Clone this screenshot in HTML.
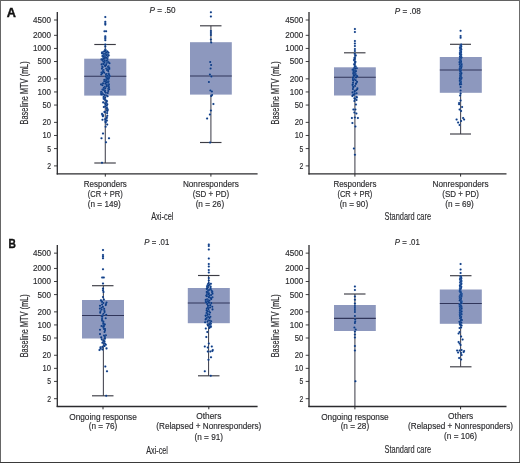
<!DOCTYPE html>
<html lang="en">
<head>
<meta charset="utf-8">
<title>Baseline MTV by response</title>
<style>
html,body{margin:0;padding:0;background:#fff;}
body{width:520px;height:463px;overflow:hidden;}
svg{display:block;font-family:"Liberation Sans",sans-serif;}
text{stroke:#2d2d30;stroke-width:0.16px;}
</style>
</head>
<body>
<svg width="520" height="463" viewBox="0 0 520 463">
<rect x="0" y="0" width="520" height="463" fill="#fff"/>
<g>
<line x1="105.3" y1="44.5" x2="105.3" y2="163.0" stroke="#4a4a55" stroke-width="1.1"/>
<rect x="84.2" y="58.7" width="42.10" height="36.90" fill="#8d98be"/>
<line x1="84.2" y1="76.2" x2="126.3" y2="76.2" stroke="#30355a" stroke-width="1.15"/>
<line x1="94.3" y1="44.5" x2="115.8" y2="44.5" stroke="#3c3c44" stroke-width="1.15"/>
<line x1="94.3" y1="163.0" x2="115.8" y2="163.0" stroke="#3c3c44" stroke-width="1.15"/>
<g fill="#0e3a82" stroke="#7fb0ec" stroke-opacity="0.4" stroke-width="0.5" paint-order="stroke">
<circle cx="105.4" cy="49.5" r="1.05"/>
<circle cx="105.2" cy="50.3" r="1.05"/>
<circle cx="105.5" cy="50.6" r="1.05"/>
<circle cx="105.3" cy="50.9" r="1.05"/>
<circle cx="107.3" cy="51.5" r="1.05"/>
<circle cx="104.0" cy="51.6" r="1.05"/>
<circle cx="107.4" cy="51.9" r="1.05"/>
<circle cx="102.2" cy="52.3" r="1.05"/>
<circle cx="108.5" cy="52.7" r="1.05"/>
<circle cx="106.1" cy="52.8" r="1.05"/>
<circle cx="102.0" cy="53.0" r="1.05"/>
<circle cx="102.3" cy="53.4" r="1.05"/>
<circle cx="103.5" cy="53.5" r="1.05"/>
<circle cx="105.1" cy="53.8" r="1.05"/>
<circle cx="107.6" cy="54.2" r="1.05"/>
<circle cx="106.3" cy="54.5" r="1.05"/>
<circle cx="106.4" cy="54.7" r="1.05"/>
<circle cx="103.8" cy="55.0" r="1.05"/>
<circle cx="108.7" cy="55.4" r="1.05"/>
<circle cx="106.7" cy="55.6" r="1.05"/>
<circle cx="103.5" cy="55.8" r="1.05"/>
<circle cx="102.4" cy="56.0" r="1.05"/>
<circle cx="104.6" cy="56.4" r="1.05"/>
<circle cx="104.5" cy="56.7" r="1.05"/>
<circle cx="107.7" cy="57.0" r="1.05"/>
<circle cx="103.3" cy="57.1" r="1.05"/>
<circle cx="105.1" cy="57.6" r="1.05"/>
<circle cx="104.6" cy="57.9" r="1.05"/>
<circle cx="106.2" cy="57.9" r="1.05"/>
<circle cx="103.7" cy="58.4" r="1.05"/>
<circle cx="104.2" cy="58.4" r="1.05"/>
<circle cx="107.5" cy="59.0" r="1.05"/>
<circle cx="103.1" cy="59.1" r="1.05"/>
<circle cx="101.5" cy="59.4" r="1.05"/>
<circle cx="102.5" cy="60.0" r="1.05"/>
<circle cx="104.8" cy="60.3" r="1.05"/>
<circle cx="107.3" cy="60.5" r="1.05"/>
<circle cx="106.5" cy="60.8" r="1.05"/>
<circle cx="104.6" cy="61.2" r="1.05"/>
<circle cx="103.3" cy="61.6" r="1.05"/>
<circle cx="107.9" cy="62.2" r="1.05"/>
<circle cx="108.6" cy="62.3" r="1.05"/>
<circle cx="104.4" cy="62.6" r="1.05"/>
<circle cx="106.5" cy="63.2" r="1.05"/>
<circle cx="109.5" cy="63.3" r="1.05"/>
<circle cx="103.2" cy="63.7" r="1.05"/>
<circle cx="103.8" cy="64.2" r="1.05"/>
<circle cx="101.6" cy="64.4" r="1.05"/>
<circle cx="106.0" cy="64.7" r="1.05"/>
<circle cx="106.2" cy="65.1" r="1.05"/>
<circle cx="104.9" cy="65.5" r="1.05"/>
<circle cx="105.2" cy="66.0" r="1.05"/>
<circle cx="108.5" cy="66.3" r="1.05"/>
<circle cx="102.3" cy="66.5" r="1.05"/>
<circle cx="108.0" cy="67.1" r="1.05"/>
<circle cx="102.6" cy="67.2" r="1.05"/>
<circle cx="109.1" cy="67.7" r="1.05"/>
<circle cx="109.2" cy="67.9" r="1.05"/>
<circle cx="106.2" cy="68.5" r="1.05"/>
<circle cx="101.9" cy="68.6" r="1.05"/>
<circle cx="109.3" cy="68.9" r="1.05"/>
<circle cx="107.1" cy="69.3" r="1.05"/>
<circle cx="108.1" cy="69.6" r="1.05"/>
<circle cx="103.5" cy="70.1" r="1.05"/>
<circle cx="107.2" cy="70.3" r="1.05"/>
<circle cx="103.0" cy="70.6" r="1.05"/>
<circle cx="108.3" cy="71.1" r="1.05"/>
<circle cx="103.4" cy="71.5" r="1.05"/>
<circle cx="102.8" cy="72.0" r="1.05"/>
<circle cx="103.3" cy="72.0" r="1.05"/>
<circle cx="101.5" cy="72.5" r="1.05"/>
<circle cx="104.2" cy="72.8" r="1.05"/>
<circle cx="102.1" cy="73.3" r="1.05"/>
<circle cx="108.7" cy="73.5" r="1.05"/>
<circle cx="106.6" cy="74.1" r="1.05"/>
<circle cx="106.0" cy="74.3" r="1.05"/>
<circle cx="101.3" cy="74.5" r="1.05"/>
<circle cx="108.8" cy="74.8" r="1.05"/>
<circle cx="109.3" cy="75.4" r="1.05"/>
<circle cx="106.5" cy="75.5" r="1.05"/>
<circle cx="107.3" cy="76.0" r="1.05"/>
<circle cx="109.6" cy="76.3" r="1.05"/>
<circle cx="105.7" cy="76.6" r="1.05"/>
<circle cx="108.7" cy="77.3" r="1.05"/>
<circle cx="107.1" cy="77.6" r="1.05"/>
<circle cx="108.9" cy="78.1" r="1.05"/>
<circle cx="106.9" cy="78.3" r="1.05"/>
<circle cx="108.5" cy="78.9" r="1.05"/>
<circle cx="107.8" cy="79.1" r="1.05"/>
<circle cx="105.9" cy="79.6" r="1.05"/>
<circle cx="104.3" cy="79.9" r="1.05"/>
<circle cx="106.2" cy="80.3" r="1.05"/>
<circle cx="106.5" cy="80.5" r="1.05"/>
<circle cx="108.6" cy="81.2" r="1.05"/>
<circle cx="104.3" cy="81.5" r="1.05"/>
<circle cx="106.0" cy="81.9" r="1.05"/>
<circle cx="108.2" cy="82.2" r="1.05"/>
<circle cx="107.5" cy="82.4" r="1.05"/>
<circle cx="106.2" cy="82.8" r="1.05"/>
<circle cx="103.0" cy="83.4" r="1.05"/>
<circle cx="105.3" cy="83.8" r="1.05"/>
<circle cx="108.9" cy="84.2" r="1.05"/>
<circle cx="101.1" cy="84.4" r="1.05"/>
<circle cx="106.8" cy="84.9" r="1.05"/>
<circle cx="102.5" cy="85.2" r="1.05"/>
<circle cx="106.7" cy="85.9" r="1.05"/>
<circle cx="108.7" cy="86.1" r="1.05"/>
<circle cx="106.7" cy="86.4" r="1.05"/>
<circle cx="104.7" cy="86.8" r="1.05"/>
<circle cx="108.9" cy="87.4" r="1.05"/>
<circle cx="104.3" cy="87.8" r="1.05"/>
<circle cx="103.7" cy="88.1" r="1.05"/>
<circle cx="105.3" cy="88.3" r="1.05"/>
<circle cx="108.3" cy="88.9" r="1.05"/>
<circle cx="109.2" cy="89.3" r="1.05"/>
<circle cx="102.5" cy="89.5" r="1.05"/>
<circle cx="103.4" cy="90.0" r="1.05"/>
<circle cx="104.6" cy="90.3" r="1.05"/>
<circle cx="105.2" cy="90.8" r="1.05"/>
<circle cx="108.2" cy="91.1" r="1.05"/>
<circle cx="104.9" cy="91.7" r="1.05"/>
<circle cx="101.3" cy="91.7" r="1.05"/>
<circle cx="101.4" cy="92.4" r="1.05"/>
<circle cx="105.9" cy="92.8" r="1.05"/>
<circle cx="107.8" cy="93.0" r="1.05"/>
<circle cx="102.2" cy="93.3" r="1.05"/>
<circle cx="101.2" cy="93.8" r="1.05"/>
<circle cx="103.0" cy="94.4" r="1.05"/>
<circle cx="101.4" cy="94.5" r="1.05"/>
<circle cx="104.8" cy="95.1" r="1.05"/>
<circle cx="106.6" cy="95.5" r="1.05"/>
<circle cx="107.6" cy="96.2" r="1.05"/>
<circle cx="103.8" cy="96.8" r="1.05"/>
<circle cx="103.7" cy="97.3" r="1.05"/>
<circle cx="105.2" cy="97.7" r="1.05"/>
<circle cx="103.7" cy="98.8" r="1.05"/>
<circle cx="104.5" cy="99.2" r="1.05"/>
<circle cx="105.4" cy="100.2" r="1.05"/>
<circle cx="106.6" cy="100.8" r="1.05"/>
<circle cx="106.8" cy="101.3" r="1.05"/>
<circle cx="103.2" cy="102.4" r="1.05"/>
<circle cx="106.4" cy="103.1" r="1.05"/>
<circle cx="105.1" cy="103.2" r="1.05"/>
<circle cx="107.3" cy="104.2" r="1.05"/>
<circle cx="105.6" cy="104.7" r="1.05"/>
<circle cx="106.8" cy="105.8" r="1.05"/>
<circle cx="105.1" cy="106.5" r="1.05"/>
<circle cx="103.8" cy="107.0" r="1.05"/>
<circle cx="106.9" cy="107.7" r="1.05"/>
<circle cx="106.4" cy="108.3" r="1.05"/>
<circle cx="107.3" cy="108.7" r="1.05"/>
<circle cx="107.7" cy="109.9" r="1.05"/>
<circle cx="106.8" cy="110.3" r="1.05"/>
<circle cx="107.3" cy="110.9" r="1.05"/>
<circle cx="104.5" cy="111.9" r="1.05"/>
<circle cx="104.9" cy="112.1" r="1.05"/>
<circle cx="107.1" cy="113.1" r="1.05"/>
<circle cx="102.1" cy="113.7" r="1.05"/>
<circle cx="102.3" cy="114.7" r="1.05"/>
<circle cx="103.1" cy="115.4" r="1.05"/>
<circle cx="107.3" cy="115.7" r="1.05"/>
<circle cx="102.9" cy="116.3" r="1.05"/>
<circle cx="106.8" cy="117.3" r="1.05"/>
<circle cx="106.6" cy="118.2" r="1.05"/>
<circle cx="105.2" cy="119.0" r="1.05"/>
<circle cx="102.5" cy="119.7" r="1.05"/>
<circle cx="105.5" cy="119.9" r="1.05"/>
<circle cx="106.9" cy="120.6" r="1.05"/>
<circle cx="105.5" cy="121.5" r="1.05"/>
<circle cx="105.7" cy="122.4" r="1.05"/>
<circle cx="105.3" cy="17.0" r="1.05"/>
<circle cx="105.3" cy="21.8" r="1.05"/>
<circle cx="105.3" cy="23.2" r="1.05"/>
<circle cx="105.3" cy="24.6" r="1.05"/>
<circle cx="104.5" cy="31.2" r="1.05"/>
<circle cx="106.1" cy="31.2" r="1.05"/>
<circle cx="105.3" cy="36.2" r="1.05"/>
<circle cx="105.3" cy="37.5" r="1.05"/>
<circle cx="105.3" cy="38.8" r="1.05"/>
<circle cx="105.3" cy="40.2" r="1.05"/>
<circle cx="105.3" cy="44.5" r="1.05"/>
<circle cx="105.3" cy="46.5" r="1.05"/>
<circle cx="107.2" cy="124.5" r="1.05"/>
<circle cx="105.6" cy="126.8" r="1.05"/>
<circle cx="103.0" cy="133.5" r="1.05"/>
<circle cx="101.5" cy="138.3" r="1.05"/>
<circle cx="109.0" cy="138.3" r="1.05"/>
<circle cx="106.0" cy="142.3" r="1.05"/>
<circle cx="102.0" cy="162.8" r="1.05"/>
</g>
<line x1="105.3" y1="173.8" x2="105.3" y2="176.60000000000002" stroke="#2b2b2e" stroke-width="1"/>
<line x1="210.9" y1="25.8" x2="210.9" y2="142.5" stroke="#4a4a55" stroke-width="1.1"/>
<rect x="190" y="42.2" width="41.80" height="52.40" fill="#8d98be"/>
<line x1="190" y1="76" x2="231.8" y2="76" stroke="#30355a" stroke-width="1.15"/>
<line x1="200" y1="25.8" x2="221.5" y2="25.8" stroke="#3c3c44" stroke-width="1.15"/>
<line x1="200" y1="142.5" x2="221.5" y2="142.5" stroke="#3c3c44" stroke-width="1.15"/>
<g fill="#0e3a82" stroke="#7fb0ec" stroke-opacity="0.4" stroke-width="0.5" paint-order="stroke">
<circle cx="210.9" cy="12.3" r="1.05"/>
<circle cx="210.9" cy="16.5" r="1.05"/>
<circle cx="210.9" cy="31.0" r="1.05"/>
<circle cx="210.9" cy="33.0" r="1.05"/>
<circle cx="210.9" cy="35.0" r="1.05"/>
<circle cx="210.9" cy="39.5" r="1.05"/>
<circle cx="211.2" cy="42.5" r="1.05"/>
<circle cx="210.2" cy="62.0" r="1.05"/>
<circle cx="211.1" cy="65.0" r="1.05"/>
<circle cx="210.6" cy="68.5" r="1.05"/>
<circle cx="209.9" cy="74.5" r="1.05"/>
<circle cx="211.4" cy="76.5" r="1.05"/>
<circle cx="208.9" cy="82.0" r="1.05"/>
<circle cx="210.4" cy="90.5" r="1.05"/>
<circle cx="211.9" cy="91.5" r="1.05"/>
<circle cx="212.1" cy="95.0" r="1.05"/>
<circle cx="211.2" cy="96.0" r="1.05"/>
<circle cx="213.4" cy="104.0" r="1.05"/>
<circle cx="210.9" cy="110.5" r="1.05"/>
<circle cx="209.9" cy="114.5" r="1.05"/>
<circle cx="207.1" cy="118.5" r="1.05"/>
<circle cx="210.1" cy="142.5" r="1.05"/>
</g>
<line x1="210.9" y1="173.8" x2="210.9" y2="176.60000000000002" stroke="#2b2b2e" stroke-width="1"/>
<line x1="57.3" y1="12.1" x2="57.3" y2="174.4" stroke="#2b2b2e" stroke-width="1.3"/>
<line x1="56.699999999999996" y1="173.8" x2="257.6" y2="173.8" stroke="#2b2b2e" stroke-width="1.3"/>
<line x1="54.0" y1="20.00" x2="57.3" y2="20.00" stroke="#2b2b2e" stroke-width="0.9"/>
<text x="51.00" y="22.95" text-anchor="end" font-size="8.3" textLength="18.0" lengthAdjust="spacingAndGlyphs" fill="#2d2d30">4500</text>
<line x1="54.0" y1="35.33" x2="57.3" y2="35.33" stroke="#2b2b2e" stroke-width="0.9"/>
<text x="51.00" y="38.28" text-anchor="end" font-size="8.3" textLength="18.0" lengthAdjust="spacingAndGlyphs" fill="#2d2d30">2000</text>
<line x1="54.0" y1="48.43" x2="57.3" y2="48.43" stroke="#2b2b2e" stroke-width="0.9"/>
<text x="51.00" y="51.38" text-anchor="end" font-size="8.3" textLength="18.0" lengthAdjust="spacingAndGlyphs" fill="#2d2d30">1000</text>
<line x1="54.0" y1="61.53" x2="57.3" y2="61.53" stroke="#2b2b2e" stroke-width="0.9"/>
<text x="51.00" y="64.48" text-anchor="end" font-size="8.3" textLength="13.5" lengthAdjust="spacingAndGlyphs" fill="#2d2d30">500</text>
<line x1="54.0" y1="78.85" x2="57.3" y2="78.85" stroke="#2b2b2e" stroke-width="0.9"/>
<text x="51.00" y="81.80" text-anchor="end" font-size="8.3" textLength="13.5" lengthAdjust="spacingAndGlyphs" fill="#2d2d30">200</text>
<line x1="54.0" y1="91.95" x2="57.3" y2="91.95" stroke="#2b2b2e" stroke-width="0.9"/>
<text x="51.00" y="94.90" text-anchor="end" font-size="8.3" textLength="13.5" lengthAdjust="spacingAndGlyphs" fill="#2d2d30">100</text>
<line x1="54.0" y1="105.06" x2="57.3" y2="105.06" stroke="#2b2b2e" stroke-width="0.9"/>
<text x="51.00" y="108.01" text-anchor="end" font-size="8.3" textLength="8.5" lengthAdjust="spacingAndGlyphs" fill="#2d2d30">50</text>
<line x1="54.0" y1="122.38" x2="57.3" y2="122.38" stroke="#2b2b2e" stroke-width="0.9"/>
<text x="51.00" y="125.33" text-anchor="end" font-size="8.3" textLength="8.5" lengthAdjust="spacingAndGlyphs" fill="#2d2d30">20</text>
<line x1="54.0" y1="135.48" x2="57.3" y2="135.48" stroke="#2b2b2e" stroke-width="0.9"/>
<text x="51.00" y="138.43" text-anchor="end" font-size="8.3" textLength="8.5" lengthAdjust="spacingAndGlyphs" fill="#2d2d30">10</text>
<line x1="54.0" y1="148.58" x2="57.3" y2="148.58" stroke="#2b2b2e" stroke-width="0.9"/>
<text x="51.00" y="151.53" text-anchor="end" font-size="8.3" textLength="3.8" lengthAdjust="spacingAndGlyphs" fill="#2d2d30">5</text>
<line x1="54.0" y1="165.90" x2="57.3" y2="165.90" stroke="#2b2b2e" stroke-width="0.9"/>
<text x="51.00" y="168.85" text-anchor="end" font-size="8.3" textLength="3.8" lengthAdjust="spacingAndGlyphs" fill="#2d2d30">2</text>
<text transform="translate(27.8,92.9) rotate(-90)" text-anchor="middle" font-size="10" textLength="63" lengthAdjust="spacingAndGlyphs" fill="#2d2d30">Baseline MTV (mL)</text>
<text x="149.5" y="13.4" font-size="8.4" textLength="26" lengthAdjust="spacingAndGlyphs" fill="#2d2d30"><tspan font-style="italic">P</tspan> = .50</text>
<text x="162.3" y="220.0" text-anchor="middle" font-size="10.8" textLength="22.2" lengthAdjust="spacingAndGlyphs" fill="#2d2d30">Axi-cel</text>
<text x="105.3" y="186.9" text-anchor="middle" font-size="8.7" textLength="43" lengthAdjust="spacingAndGlyphs" fill="#2d2d30">Responders</text>
<text x="105.3" y="196.6" text-anchor="middle" font-size="8.7" textLength="35" lengthAdjust="spacingAndGlyphs" fill="#2d2d30">(CR + PR)</text>
<text x="104.3" y="206.7" text-anchor="middle" font-size="8.7" textLength="33" lengthAdjust="spacingAndGlyphs" fill="#2d2d30">(n = 149)</text>
<text x="210.9" y="186.9" text-anchor="middle" font-size="8.7" textLength="56" lengthAdjust="spacingAndGlyphs" fill="#2d2d30">Nonresponders</text>
<text x="210.9" y="196.6" text-anchor="middle" font-size="8.7" textLength="36.5" lengthAdjust="spacingAndGlyphs" fill="#2d2d30">(SD + PD)</text>
<text x="209.9" y="206.7" text-anchor="middle" font-size="8.7" textLength="28.5" lengthAdjust="spacingAndGlyphs" fill="#2d2d30">(n = 26)</text>
</g>
<g>
<line x1="354.9" y1="52.8" x2="354.9" y2="173.8" stroke="#4a4a55" stroke-width="1.1"/>
<rect x="334" y="67.3" width="41.80" height="28.20" fill="#8d98be"/>
<line x1="334" y1="77.2" x2="375.8" y2="77.2" stroke="#30355a" stroke-width="1.15"/>
<line x1="344" y1="52.8" x2="365.5" y2="52.8" stroke="#3c3c44" stroke-width="1.15"/>
<g fill="#0e3a82" stroke="#7fb0ec" stroke-opacity="0.4" stroke-width="0.5" paint-order="stroke">
<circle cx="354.7" cy="53.8" r="1.05"/>
<circle cx="355.6" cy="55.3" r="1.05"/>
<circle cx="355.5" cy="55.7" r="1.05"/>
<circle cx="354.9" cy="57.5" r="1.05"/>
<circle cx="354.4" cy="58.1" r="1.05"/>
<circle cx="354.9" cy="59.0" r="1.05"/>
<circle cx="354.0" cy="60.1" r="1.05"/>
<circle cx="354.9" cy="61.5" r="1.05"/>
<circle cx="355.4" cy="61.9" r="1.05"/>
<circle cx="354.9" cy="63.1" r="1.05"/>
<circle cx="354.1" cy="64.2" r="1.05"/>
<circle cx="354.7" cy="65.0" r="1.05"/>
<circle cx="355.7" cy="66.5" r="1.05"/>
<circle cx="354.9" cy="66.8" r="1.05"/>
<circle cx="354.6" cy="67.6" r="1.05"/>
<circle cx="356.8" cy="68.2" r="1.05"/>
<circle cx="354.0" cy="68.5" r="1.05"/>
<circle cx="355.5" cy="68.8" r="1.05"/>
<circle cx="353.1" cy="69.5" r="1.05"/>
<circle cx="352.6" cy="69.8" r="1.05"/>
<circle cx="353.6" cy="70.0" r="1.05"/>
<circle cx="354.0" cy="70.6" r="1.05"/>
<circle cx="355.5" cy="70.9" r="1.05"/>
<circle cx="356.0" cy="71.2" r="1.05"/>
<circle cx="355.0" cy="71.6" r="1.05"/>
<circle cx="353.4" cy="72.0" r="1.05"/>
<circle cx="354.6" cy="72.6" r="1.05"/>
<circle cx="354.5" cy="72.9" r="1.05"/>
<circle cx="353.3" cy="73.4" r="1.05"/>
<circle cx="355.5" cy="73.6" r="1.05"/>
<circle cx="355.0" cy="74.2" r="1.05"/>
<circle cx="355.4" cy="74.7" r="1.05"/>
<circle cx="353.6" cy="75.1" r="1.05"/>
<circle cx="356.4" cy="75.5" r="1.05"/>
<circle cx="354.0" cy="75.9" r="1.05"/>
<circle cx="356.9" cy="76.1" r="1.05"/>
<circle cx="357.3" cy="76.5" r="1.05"/>
<circle cx="353.1" cy="77.2" r="1.05"/>
<circle cx="356.0" cy="77.4" r="1.05"/>
<circle cx="352.9" cy="78.1" r="1.05"/>
<circle cx="354.5" cy="79.2" r="1.05"/>
<circle cx="353.0" cy="79.9" r="1.05"/>
<circle cx="355.8" cy="80.3" r="1.05"/>
<circle cx="353.4" cy="80.7" r="1.05"/>
<circle cx="357.0" cy="81.9" r="1.05"/>
<circle cx="353.0" cy="82.8" r="1.05"/>
<circle cx="356.2" cy="83.2" r="1.05"/>
<circle cx="355.8" cy="83.9" r="1.05"/>
<circle cx="352.8" cy="84.4" r="1.05"/>
<circle cx="352.6" cy="85.0" r="1.05"/>
<circle cx="355.0" cy="86.0" r="1.05"/>
<circle cx="353.1" cy="86.8" r="1.05"/>
<circle cx="353.4" cy="87.2" r="1.05"/>
<circle cx="357.4" cy="88.3" r="1.05"/>
<circle cx="352.9" cy="89.1" r="1.05"/>
<circle cx="357.2" cy="89.2" r="1.05"/>
<circle cx="356.2" cy="90.2" r="1.05"/>
<circle cx="354.7" cy="90.8" r="1.05"/>
<circle cx="354.6" cy="91.6" r="1.05"/>
<circle cx="352.5" cy="92.4" r="1.05"/>
<circle cx="356.6" cy="93.2" r="1.05"/>
<circle cx="354.7" cy="93.5" r="1.05"/>
<circle cx="354.4" cy="94.6" r="1.05"/>
<circle cx="353.2" cy="94.9" r="1.05"/>
<circle cx="352.4" cy="95.9" r="1.05"/>
<circle cx="356.5" cy="96.9" r="1.05"/>
<circle cx="356.8" cy="97.5" r="1.05"/>
<circle cx="354.4" cy="98.2" r="1.05"/>
<circle cx="354.9" cy="98.9" r="1.05"/>
<circle cx="356.5" cy="100.0" r="1.05"/>
<circle cx="354.9" cy="29.0" r="1.05"/>
<circle cx="354.9" cy="32.0" r="1.05"/>
<circle cx="354.9" cy="41.0" r="1.05"/>
<circle cx="354.9" cy="43.5" r="1.05"/>
<circle cx="354.9" cy="46.0" r="1.05"/>
<circle cx="354.9" cy="49.0" r="1.05"/>
<circle cx="354.9" cy="51.0" r="1.05"/>
<circle cx="354.4" cy="101.0" r="1.05"/>
<circle cx="355.9" cy="104.5" r="1.05"/>
<circle cx="353.4" cy="109.5" r="1.05"/>
<circle cx="355.4" cy="109.5" r="1.05"/>
<circle cx="354.4" cy="112.5" r="1.05"/>
<circle cx="356.4" cy="113.5" r="1.05"/>
<circle cx="351.9" cy="118.0" r="1.05"/>
<circle cx="354.9" cy="117.5" r="1.05"/>
<circle cx="357.9" cy="118.0" r="1.05"/>
<circle cx="352.4" cy="123.0" r="1.05"/>
<circle cx="355.4" cy="126.5" r="1.05"/>
<circle cx="353.9" cy="148.5" r="1.05"/>
<circle cx="354.9" cy="154.7" r="1.05"/>
</g>
<line x1="354.9" y1="173.8" x2="354.9" y2="176.60000000000002" stroke="#2b2b2e" stroke-width="1"/>
<line x1="460.6" y1="44.3" x2="460.6" y2="134" stroke="#4a4a55" stroke-width="1.1"/>
<rect x="439.8" y="57" width="42.00" height="35.80" fill="#8d98be"/>
<line x1="439.8" y1="70" x2="481.8" y2="70" stroke="#30355a" stroke-width="1.15"/>
<line x1="450" y1="44.3" x2="471" y2="44.3" stroke="#3c3c44" stroke-width="1.15"/>
<line x1="450" y1="134" x2="471" y2="134" stroke="#3c3c44" stroke-width="1.15"/>
<g fill="#0e3a82" stroke="#7fb0ec" stroke-opacity="0.4" stroke-width="0.5" paint-order="stroke">
<circle cx="461.2" cy="44.6" r="1.05"/>
<circle cx="461.0" cy="45.3" r="1.05"/>
<circle cx="460.5" cy="45.9" r="1.05"/>
<circle cx="461.2" cy="46.4" r="1.05"/>
<circle cx="461.0" cy="46.8" r="1.05"/>
<circle cx="460.5" cy="47.3" r="1.05"/>
<circle cx="460.0" cy="47.7" r="1.05"/>
<circle cx="460.6" cy="48.0" r="1.05"/>
<circle cx="460.4" cy="48.4" r="1.05"/>
<circle cx="460.8" cy="49.1" r="1.05"/>
<circle cx="461.3" cy="49.4" r="1.05"/>
<circle cx="460.4" cy="50.1" r="1.05"/>
<circle cx="460.7" cy="50.6" r="1.05"/>
<circle cx="460.4" cy="51.0" r="1.05"/>
<circle cx="460.8" cy="51.7" r="1.05"/>
<circle cx="461.0" cy="52.0" r="1.05"/>
<circle cx="459.9" cy="52.7" r="1.05"/>
<circle cx="461.0" cy="53.0" r="1.05"/>
<circle cx="460.5" cy="53.3" r="1.05"/>
<circle cx="460.1" cy="53.7" r="1.05"/>
<circle cx="460.0" cy="54.3" r="1.05"/>
<circle cx="461.2" cy="54.7" r="1.05"/>
<circle cx="460.6" cy="55.3" r="1.05"/>
<circle cx="460.7" cy="56.0" r="1.05"/>
<circle cx="460.8" cy="56.5" r="1.05"/>
<circle cx="460.0" cy="56.9" r="1.05"/>
<circle cx="461.1" cy="57.3" r="1.05"/>
<circle cx="461.5" cy="57.5" r="1.05"/>
<circle cx="460.5" cy="58.1" r="1.05"/>
<circle cx="460.6" cy="58.6" r="1.05"/>
<circle cx="459.7" cy="59.3" r="1.05"/>
<circle cx="460.4" cy="60.0" r="1.05"/>
<circle cx="460.8" cy="60.3" r="1.05"/>
<circle cx="460.2" cy="60.7" r="1.05"/>
<circle cx="460.7" cy="61.3" r="1.05"/>
<circle cx="461.0" cy="61.6" r="1.05"/>
<circle cx="459.6" cy="62.1" r="1.05"/>
<circle cx="459.7" cy="62.6" r="1.05"/>
<circle cx="461.1" cy="63.1" r="1.05"/>
<circle cx="461.4" cy="63.7" r="1.05"/>
<circle cx="459.7" cy="64.4" r="1.05"/>
<circle cx="461.5" cy="65.0" r="1.05"/>
<circle cx="461.4" cy="65.0" r="1.05"/>
<circle cx="460.6" cy="65.7" r="1.05"/>
<circle cx="460.1" cy="66.5" r="1.05"/>
<circle cx="461.5" cy="66.8" r="1.05"/>
<circle cx="460.5" cy="67.4" r="1.05"/>
<circle cx="461.2" cy="68.0" r="1.05"/>
<circle cx="459.8" cy="68.3" r="1.05"/>
<circle cx="460.5" cy="68.8" r="1.05"/>
<circle cx="459.7" cy="69.1" r="1.05"/>
<circle cx="459.8" cy="69.8" r="1.05"/>
<circle cx="460.9" cy="70.3" r="1.05"/>
<circle cx="460.2" cy="70.9" r="1.05"/>
<circle cx="460.5" cy="71.6" r="1.05"/>
<circle cx="460.7" cy="72.4" r="1.05"/>
<circle cx="461.4" cy="73.1" r="1.05"/>
<circle cx="460.1" cy="73.6" r="1.05"/>
<circle cx="461.3" cy="73.8" r="1.05"/>
<circle cx="460.8" cy="74.9" r="1.05"/>
<circle cx="460.2" cy="75.2" r="1.05"/>
<circle cx="460.7" cy="76.1" r="1.05"/>
<circle cx="460.8" cy="76.6" r="1.05"/>
<circle cx="460.0" cy="77.3" r="1.05"/>
<circle cx="461.5" cy="77.7" r="1.05"/>
<circle cx="461.3" cy="78.7" r="1.05"/>
<circle cx="459.8" cy="78.8" r="1.05"/>
<circle cx="460.5" cy="79.5" r="1.05"/>
<circle cx="459.9" cy="80.4" r="1.05"/>
<circle cx="459.8" cy="81.0" r="1.05"/>
<circle cx="460.9" cy="81.3" r="1.05"/>
<circle cx="460.8" cy="82.2" r="1.05"/>
<circle cx="460.6" cy="82.7" r="1.05"/>
<circle cx="460.3" cy="83.3" r="1.05"/>
<circle cx="461.2" cy="84.2" r="1.05"/>
<circle cx="459.9" cy="84.4" r="1.05"/>
<circle cx="460.6" cy="30.8" r="1.05"/>
<circle cx="460.6" cy="36.0" r="1.05"/>
<circle cx="460.6" cy="37.8" r="1.05"/>
<circle cx="460.6" cy="87.0" r="1.05"/>
<circle cx="460.6" cy="90.5" r="1.05"/>
<circle cx="460.6" cy="93.5" r="1.05"/>
<circle cx="460.1" cy="95.5" r="1.05"/>
<circle cx="460.6" cy="100.5" r="1.05"/>
<circle cx="459.1" cy="103.0" r="1.05"/>
<circle cx="459.1" cy="104.2" r="1.05"/>
<circle cx="462.1" cy="107.0" r="1.05"/>
<circle cx="459.6" cy="109.5" r="1.05"/>
<circle cx="461.1" cy="111.0" r="1.05"/>
<circle cx="456.6" cy="119.5" r="1.05"/>
<circle cx="463.1" cy="118.0" r="1.05"/>
<circle cx="464.1" cy="119.5" r="1.05"/>
<circle cx="461.1" cy="121.0" r="1.05"/>
<circle cx="458.1" cy="122.5" r="1.05"/>
<circle cx="459.6" cy="125.0" r="1.05"/>
</g>
<line x1="460.6" y1="173.8" x2="460.6" y2="176.60000000000002" stroke="#2b2b2e" stroke-width="1"/>
<line x1="309.0" y1="12.1" x2="309.0" y2="174.4" stroke="#2b2b2e" stroke-width="1.3"/>
<line x1="308.4" y1="173.8" x2="506.5" y2="173.8" stroke="#2b2b2e" stroke-width="1.3"/>
<line x1="305.7" y1="20.00" x2="309.0" y2="20.00" stroke="#2b2b2e" stroke-width="0.9"/>
<text x="303.30" y="22.95" text-anchor="end" font-size="8.3" textLength="18.0" lengthAdjust="spacingAndGlyphs" fill="#2d2d30">4500</text>
<line x1="305.7" y1="35.33" x2="309.0" y2="35.33" stroke="#2b2b2e" stroke-width="0.9"/>
<text x="303.30" y="38.28" text-anchor="end" font-size="8.3" textLength="18.0" lengthAdjust="spacingAndGlyphs" fill="#2d2d30">2000</text>
<line x1="305.7" y1="48.43" x2="309.0" y2="48.43" stroke="#2b2b2e" stroke-width="0.9"/>
<text x="303.30" y="51.38" text-anchor="end" font-size="8.3" textLength="18.0" lengthAdjust="spacingAndGlyphs" fill="#2d2d30">1000</text>
<line x1="305.7" y1="61.53" x2="309.0" y2="61.53" stroke="#2b2b2e" stroke-width="0.9"/>
<text x="303.30" y="64.48" text-anchor="end" font-size="8.3" textLength="13.5" lengthAdjust="spacingAndGlyphs" fill="#2d2d30">500</text>
<line x1="305.7" y1="78.85" x2="309.0" y2="78.85" stroke="#2b2b2e" stroke-width="0.9"/>
<text x="303.30" y="81.80" text-anchor="end" font-size="8.3" textLength="13.5" lengthAdjust="spacingAndGlyphs" fill="#2d2d30">200</text>
<line x1="305.7" y1="91.95" x2="309.0" y2="91.95" stroke="#2b2b2e" stroke-width="0.9"/>
<text x="303.30" y="94.90" text-anchor="end" font-size="8.3" textLength="13.5" lengthAdjust="spacingAndGlyphs" fill="#2d2d30">100</text>
<line x1="305.7" y1="105.06" x2="309.0" y2="105.06" stroke="#2b2b2e" stroke-width="0.9"/>
<text x="303.30" y="108.01" text-anchor="end" font-size="8.3" textLength="8.5" lengthAdjust="spacingAndGlyphs" fill="#2d2d30">50</text>
<line x1="305.7" y1="122.38" x2="309.0" y2="122.38" stroke="#2b2b2e" stroke-width="0.9"/>
<text x="303.30" y="125.33" text-anchor="end" font-size="8.3" textLength="8.5" lengthAdjust="spacingAndGlyphs" fill="#2d2d30">20</text>
<line x1="305.7" y1="135.48" x2="309.0" y2="135.48" stroke="#2b2b2e" stroke-width="0.9"/>
<text x="303.30" y="138.43" text-anchor="end" font-size="8.3" textLength="8.5" lengthAdjust="spacingAndGlyphs" fill="#2d2d30">10</text>
<line x1="305.7" y1="148.58" x2="309.0" y2="148.58" stroke="#2b2b2e" stroke-width="0.9"/>
<text x="303.30" y="151.53" text-anchor="end" font-size="8.3" textLength="3.8" lengthAdjust="spacingAndGlyphs" fill="#2d2d30">5</text>
<line x1="305.7" y1="165.90" x2="309.0" y2="165.90" stroke="#2b2b2e" stroke-width="0.9"/>
<text x="303.30" y="168.85" text-anchor="end" font-size="8.3" textLength="3.8" lengthAdjust="spacingAndGlyphs" fill="#2d2d30">2</text>
<text transform="translate(279.3,92.9) rotate(-90)" text-anchor="middle" font-size="10" textLength="63" lengthAdjust="spacingAndGlyphs" fill="#2d2d30">Baseline MTV (mL)</text>
<text x="394.7" y="13.5" font-size="8.4" textLength="26" lengthAdjust="spacingAndGlyphs" fill="#2d2d30"><tspan font-style="italic">P</tspan> = .08</text>
<text x="407.8" y="219.9" text-anchor="middle" font-size="11.2" textLength="46.5" lengthAdjust="spacingAndGlyphs" fill="#2d2d30">Standard care</text>
<text x="354.9" y="186.9" text-anchor="middle" font-size="8.7" textLength="43" lengthAdjust="spacingAndGlyphs" fill="#2d2d30">Responders</text>
<text x="354.9" y="196.6" text-anchor="middle" font-size="8.7" textLength="35" lengthAdjust="spacingAndGlyphs" fill="#2d2d30">(CR + PR)</text>
<text x="353.9" y="206.7" text-anchor="middle" font-size="8.7" textLength="28.5" lengthAdjust="spacingAndGlyphs" fill="#2d2d30">(n = 90)</text>
<text x="460.6" y="186.9" text-anchor="middle" font-size="8.7" textLength="56" lengthAdjust="spacingAndGlyphs" fill="#2d2d30">Nonresponders</text>
<text x="460.6" y="196.6" text-anchor="middle" font-size="8.7" textLength="36.5" lengthAdjust="spacingAndGlyphs" fill="#2d2d30">(SD + PD)</text>
<text x="459.6" y="206.7" text-anchor="middle" font-size="8.7" textLength="28.5" lengthAdjust="spacingAndGlyphs" fill="#2d2d30">(n = 69)</text>
</g>
<g>
<line x1="103.4" y1="285.7" x2="103.4" y2="395.8" stroke="#4a4a55" stroke-width="1.1"/>
<rect x="82" y="300" width="42.00" height="38.50" fill="#8d98be"/>
<line x1="82" y1="315.5" x2="124" y2="315.5" stroke="#30355a" stroke-width="1.15"/>
<line x1="92" y1="285.7" x2="113.5" y2="285.7" stroke="#3c3c44" stroke-width="1.15"/>
<line x1="92" y1="395.8" x2="113.5" y2="395.8" stroke="#3c3c44" stroke-width="1.15"/>
<g fill="#0e3a82" stroke="#7fb0ec" stroke-opacity="0.4" stroke-width="0.5" paint-order="stroke">
<circle cx="103.9" cy="299.6" r="1.05"/>
<circle cx="100.9" cy="300.3" r="1.05"/>
<circle cx="101.3" cy="300.8" r="1.05"/>
<circle cx="102.1" cy="301.9" r="1.05"/>
<circle cx="106.5" cy="302.5" r="1.05"/>
<circle cx="103.4" cy="303.0" r="1.05"/>
<circle cx="106.0" cy="304.1" r="1.05"/>
<circle cx="102.1" cy="304.6" r="1.05"/>
<circle cx="105.7" cy="305.1" r="1.05"/>
<circle cx="100.0" cy="305.8" r="1.05"/>
<circle cx="102.9" cy="306.9" r="1.05"/>
<circle cx="101.6" cy="307.8" r="1.05"/>
<circle cx="99.9" cy="308.6" r="1.05"/>
<circle cx="104.2" cy="308.9" r="1.05"/>
<circle cx="101.6" cy="309.6" r="1.05"/>
<circle cx="104.4" cy="310.8" r="1.05"/>
<circle cx="100.4" cy="311.2" r="1.05"/>
<circle cx="104.6" cy="312.0" r="1.05"/>
<circle cx="100.2" cy="312.8" r="1.05"/>
<circle cx="103.5" cy="313.8" r="1.05"/>
<circle cx="106.2" cy="314.7" r="1.05"/>
<circle cx="102.6" cy="315.4" r="1.05"/>
<circle cx="101.7" cy="316.3" r="1.05"/>
<circle cx="102.3" cy="316.8" r="1.05"/>
<circle cx="105.7" cy="318.3" r="1.05"/>
<circle cx="102.1" cy="318.6" r="1.05"/>
<circle cx="102.1" cy="319.7" r="1.05"/>
<circle cx="102.2" cy="320.7" r="1.05"/>
<circle cx="103.4" cy="321.5" r="1.05"/>
<circle cx="103.3" cy="323.1" r="1.05"/>
<circle cx="103.4" cy="324.1" r="1.05"/>
<circle cx="104.8" cy="324.4" r="1.05"/>
<circle cx="101.5" cy="326.0" r="1.05"/>
<circle cx="103.1" cy="326.2" r="1.05"/>
<circle cx="103.5" cy="327.7" r="1.05"/>
<circle cx="104.0" cy="329.0" r="1.05"/>
<circle cx="100.0" cy="329.8" r="1.05"/>
<circle cx="105.0" cy="330.6" r="1.05"/>
<circle cx="100.0" cy="334.1" r="1.05"/>
<circle cx="105.9" cy="335.3" r="1.05"/>
<circle cx="104.0" cy="335.5" r="1.05"/>
<circle cx="104.8" cy="336.3" r="1.05"/>
<circle cx="101.2" cy="337.4" r="1.05"/>
<circle cx="104.9" cy="337.8" r="1.05"/>
<circle cx="104.9" cy="338.7" r="1.05"/>
<circle cx="101.8" cy="339.4" r="1.05"/>
<circle cx="104.2" cy="340.5" r="1.05"/>
<circle cx="103.3" cy="340.9" r="1.05"/>
<circle cx="104.5" cy="341.8" r="1.05"/>
<circle cx="102.4" cy="342.7" r="1.05"/>
<circle cx="104.2" cy="343.3" r="1.05"/>
<circle cx="105.2" cy="344.1" r="1.05"/>
<circle cx="105.8" cy="344.8" r="1.05"/>
<circle cx="104.0" cy="345.6" r="1.05"/>
<circle cx="104.5" cy="346.0" r="1.05"/>
<circle cx="102.4" cy="346.9" r="1.05"/>
<circle cx="100.5" cy="347.4" r="1.05"/>
<circle cx="106.5" cy="348.4" r="1.05"/>
<circle cx="100.6" cy="348.8" r="1.05"/>
<circle cx="102.5" cy="349.4" r="1.05"/>
<circle cx="103.0" cy="250.0" r="1.05"/>
<circle cx="103.0" cy="255.0" r="1.05"/>
<circle cx="103.0" cy="256.6" r="1.05"/>
<circle cx="103.0" cy="258.2" r="1.05"/>
<circle cx="103.0" cy="269.2" r="1.05"/>
<circle cx="102.2" cy="277.5" r="1.05"/>
<circle cx="103.8" cy="277.5" r="1.05"/>
<circle cx="103.0" cy="283.5" r="1.05"/>
<circle cx="103.0" cy="288.5" r="1.05"/>
<circle cx="103.0" cy="290.3" r="1.05"/>
<circle cx="103.5" cy="292.0" r="1.05"/>
<circle cx="103.0" cy="297.0" r="1.05"/>
<circle cx="104.0" cy="326.0" r="1.05"/>
<circle cx="105.0" cy="329.0" r="1.05"/>
<circle cx="104.5" cy="332.0" r="1.05"/>
<circle cx="99.5" cy="350.0" r="1.05"/>
<circle cx="105.3" cy="366.5" r="1.05"/>
<circle cx="107.0" cy="371.3" r="1.05"/>
<circle cx="106.2" cy="395.8" r="1.05"/>
</g>
<line x1="103.0" y1="406.5" x2="103.0" y2="409.3" stroke="#2b2b2e" stroke-width="1"/>
<line x1="208.55" y1="275.5" x2="208.55" y2="375.8" stroke="#4a4a55" stroke-width="1.1"/>
<rect x="187.8" y="288" width="42.00" height="35.20" fill="#8d98be"/>
<line x1="187.8" y1="303" x2="229.8" y2="303" stroke="#30355a" stroke-width="1.15"/>
<line x1="198" y1="275.5" x2="219.5" y2="275.5" stroke="#3c3c44" stroke-width="1.15"/>
<line x1="198" y1="375.8" x2="219.5" y2="375.8" stroke="#3c3c44" stroke-width="1.15"/>
<g fill="#0e3a82" stroke="#7fb0ec" stroke-opacity="0.4" stroke-width="0.5" paint-order="stroke">
<circle cx="210.9" cy="283.7" r="1.05"/>
<circle cx="208.0" cy="284.1" r="1.05"/>
<circle cx="209.5" cy="284.7" r="1.05"/>
<circle cx="207.4" cy="285.6" r="1.05"/>
<circle cx="208.6" cy="285.8" r="1.05"/>
<circle cx="210.6" cy="286.6" r="1.05"/>
<circle cx="207.1" cy="286.9" r="1.05"/>
<circle cx="207.6" cy="287.5" r="1.05"/>
<circle cx="210.5" cy="288.1" r="1.05"/>
<circle cx="206.7" cy="288.7" r="1.05"/>
<circle cx="207.1" cy="288.9" r="1.05"/>
<circle cx="210.8" cy="289.4" r="1.05"/>
<circle cx="209.2" cy="289.8" r="1.05"/>
<circle cx="208.6" cy="290.5" r="1.05"/>
<circle cx="211.7" cy="290.7" r="1.05"/>
<circle cx="207.6" cy="291.4" r="1.05"/>
<circle cx="212.3" cy="291.7" r="1.05"/>
<circle cx="206.7" cy="292.1" r="1.05"/>
<circle cx="212.2" cy="292.3" r="1.05"/>
<circle cx="207.9" cy="293.1" r="1.05"/>
<circle cx="208.9" cy="293.4" r="1.05"/>
<circle cx="212.5" cy="293.7" r="1.05"/>
<circle cx="206.8" cy="294.3" r="1.05"/>
<circle cx="208.6" cy="294.4" r="1.05"/>
<circle cx="211.1" cy="295.0" r="1.05"/>
<circle cx="209.6" cy="295.6" r="1.05"/>
<circle cx="206.2" cy="295.8" r="1.05"/>
<circle cx="207.0" cy="296.3" r="1.05"/>
<circle cx="208.9" cy="296.9" r="1.05"/>
<circle cx="212.5" cy="297.3" r="1.05"/>
<circle cx="209.1" cy="297.5" r="1.05"/>
<circle cx="210.9" cy="297.9" r="1.05"/>
<circle cx="211.2" cy="298.3" r="1.05"/>
<circle cx="211.2" cy="299.1" r="1.05"/>
<circle cx="207.1" cy="299.2" r="1.05"/>
<circle cx="205.7" cy="299.9" r="1.05"/>
<circle cx="208.6" cy="300.2" r="1.05"/>
<circle cx="209.5" cy="300.8" r="1.05"/>
<circle cx="207.3" cy="301.2" r="1.05"/>
<circle cx="208.2" cy="301.6" r="1.05"/>
<circle cx="205.7" cy="302.1" r="1.05"/>
<circle cx="206.6" cy="302.5" r="1.05"/>
<circle cx="209.0" cy="302.8" r="1.05"/>
<circle cx="211.3" cy="303.1" r="1.05"/>
<circle cx="207.4" cy="303.8" r="1.05"/>
<circle cx="207.3" cy="304.2" r="1.05"/>
<circle cx="210.4" cy="305.0" r="1.05"/>
<circle cx="210.2" cy="305.5" r="1.05"/>
<circle cx="208.0" cy="305.9" r="1.05"/>
<circle cx="212.3" cy="306.7" r="1.05"/>
<circle cx="210.0" cy="307.5" r="1.05"/>
<circle cx="207.9" cy="307.6" r="1.05"/>
<circle cx="206.8" cy="308.6" r="1.05"/>
<circle cx="208.5" cy="309.1" r="1.05"/>
<circle cx="212.5" cy="309.4" r="1.05"/>
<circle cx="206.6" cy="310.4" r="1.05"/>
<circle cx="207.2" cy="310.9" r="1.05"/>
<circle cx="209.1" cy="311.3" r="1.05"/>
<circle cx="207.6" cy="311.8" r="1.05"/>
<circle cx="210.1" cy="312.5" r="1.05"/>
<circle cx="206.5" cy="313.0" r="1.05"/>
<circle cx="207.5" cy="313.8" r="1.05"/>
<circle cx="209.3" cy="314.5" r="1.05"/>
<circle cx="207.5" cy="315.0" r="1.05"/>
<circle cx="205.7" cy="315.6" r="1.05"/>
<circle cx="205.7" cy="315.8" r="1.05"/>
<circle cx="210.4" cy="316.7" r="1.05"/>
<circle cx="208.1" cy="317.0" r="1.05"/>
<circle cx="209.5" cy="317.9" r="1.05"/>
<circle cx="206.7" cy="318.1" r="1.05"/>
<circle cx="205.9" cy="318.7" r="1.05"/>
<circle cx="205.6" cy="319.4" r="1.05"/>
<circle cx="208.2" cy="320.3" r="1.05"/>
<circle cx="209.9" cy="320.6" r="1.05"/>
<circle cx="211.2" cy="321.3" r="1.05"/>
<circle cx="207.5" cy="321.7" r="1.05"/>
<circle cx="205.1" cy="322.3" r="1.05"/>
<circle cx="210.3" cy="322.9" r="1.05"/>
<circle cx="210.9" cy="323.7" r="1.05"/>
<circle cx="209.6" cy="324.1" r="1.05"/>
<circle cx="207.6" cy="324.3" r="1.05"/>
<circle cx="209.9" cy="325.0" r="1.05"/>
<circle cx="207.9" cy="325.4" r="1.05"/>
<circle cx="210.9" cy="326.2" r="1.05"/>
<circle cx="209.6" cy="326.9" r="1.05"/>
<circle cx="210.7" cy="327.0" r="1.05"/>
<circle cx="208.8" cy="244.5" r="1.05"/>
<circle cx="208.8" cy="246.0" r="1.05"/>
<circle cx="208.8" cy="249.5" r="1.05"/>
<circle cx="208.8" cy="258.5" r="1.05"/>
<circle cx="208.8" cy="264.0" r="1.05"/>
<circle cx="208.8" cy="266.5" r="1.05"/>
<circle cx="208.8" cy="270.0" r="1.05"/>
<circle cx="208.8" cy="272.5" r="1.05"/>
<circle cx="208.8" cy="278.0" r="1.05"/>
<circle cx="208.8" cy="280.5" r="1.05"/>
<circle cx="208.8" cy="283.0" r="1.05"/>
<circle cx="205.8" cy="328.5" r="1.05"/>
<circle cx="209.3" cy="328.0" r="1.05"/>
<circle cx="207.3" cy="332.0" r="1.05"/>
<circle cx="206.3" cy="337.0" r="1.05"/>
<circle cx="208.8" cy="343.5" r="1.05"/>
<circle cx="204.8" cy="346.5" r="1.05"/>
<circle cx="211.8" cy="346.5" r="1.05"/>
<circle cx="207.8" cy="347.5" r="1.05"/>
<circle cx="212.8" cy="350.0" r="1.05"/>
<circle cx="207.8" cy="351.5" r="1.05"/>
<circle cx="210.3" cy="351.5" r="1.05"/>
<circle cx="212.3" cy="351.0" r="1.05"/>
<circle cx="211.0" cy="357.3" r="1.05"/>
<circle cx="208.5" cy="359.8" r="1.05"/>
<circle cx="204.8" cy="371.3" r="1.05"/>
<circle cx="210.8" cy="375.8" r="1.05"/>
</g>
<line x1="208.8" y1="406.5" x2="208.8" y2="409.3" stroke="#2b2b2e" stroke-width="1"/>
<line x1="57.3" y1="245" x2="57.3" y2="407.1" stroke="#2b2b2e" stroke-width="1.3"/>
<line x1="56.699999999999996" y1="406.5" x2="257.6" y2="406.5" stroke="#2b2b2e" stroke-width="1.3"/>
<line x1="54.0" y1="253.15" x2="57.3" y2="253.15" stroke="#2b2b2e" stroke-width="0.9"/>
<text x="51.00" y="256.10" text-anchor="end" font-size="8.3" textLength="18.0" lengthAdjust="spacingAndGlyphs" fill="#2d2d30">4500</text>
<line x1="54.0" y1="268.44" x2="57.3" y2="268.44" stroke="#2b2b2e" stroke-width="0.9"/>
<text x="51.00" y="271.39" text-anchor="end" font-size="8.3" textLength="18.0" lengthAdjust="spacingAndGlyphs" fill="#2d2d30">2000</text>
<line x1="54.0" y1="281.51" x2="57.3" y2="281.51" stroke="#2b2b2e" stroke-width="0.9"/>
<text x="51.00" y="284.46" text-anchor="end" font-size="8.3" textLength="18.0" lengthAdjust="spacingAndGlyphs" fill="#2d2d30">1000</text>
<line x1="54.0" y1="294.58" x2="57.3" y2="294.58" stroke="#2b2b2e" stroke-width="0.9"/>
<text x="51.00" y="297.53" text-anchor="end" font-size="8.3" textLength="13.5" lengthAdjust="spacingAndGlyphs" fill="#2d2d30">500</text>
<line x1="54.0" y1="311.86" x2="57.3" y2="311.86" stroke="#2b2b2e" stroke-width="0.9"/>
<text x="51.00" y="314.81" text-anchor="end" font-size="8.3" textLength="13.5" lengthAdjust="spacingAndGlyphs" fill="#2d2d30">200</text>
<line x1="54.0" y1="324.93" x2="57.3" y2="324.93" stroke="#2b2b2e" stroke-width="0.9"/>
<text x="51.00" y="327.88" text-anchor="end" font-size="8.3" textLength="13.5" lengthAdjust="spacingAndGlyphs" fill="#2d2d30">100</text>
<line x1="54.0" y1="338.00" x2="57.3" y2="338.00" stroke="#2b2b2e" stroke-width="0.9"/>
<text x="51.00" y="340.95" text-anchor="end" font-size="8.3" textLength="8.5" lengthAdjust="spacingAndGlyphs" fill="#2d2d30">50</text>
<line x1="54.0" y1="355.28" x2="57.3" y2="355.28" stroke="#2b2b2e" stroke-width="0.9"/>
<text x="51.00" y="358.23" text-anchor="end" font-size="8.3" textLength="8.5" lengthAdjust="spacingAndGlyphs" fill="#2d2d30">20</text>
<line x1="54.0" y1="368.35" x2="57.3" y2="368.35" stroke="#2b2b2e" stroke-width="0.9"/>
<text x="51.00" y="371.30" text-anchor="end" font-size="8.3" textLength="8.5" lengthAdjust="spacingAndGlyphs" fill="#2d2d30">10</text>
<line x1="54.0" y1="381.42" x2="57.3" y2="381.42" stroke="#2b2b2e" stroke-width="0.9"/>
<text x="51.00" y="384.37" text-anchor="end" font-size="8.3" textLength="3.8" lengthAdjust="spacingAndGlyphs" fill="#2d2d30">5</text>
<line x1="54.0" y1="398.70" x2="57.3" y2="398.70" stroke="#2b2b2e" stroke-width="0.9"/>
<text x="51.00" y="401.65" text-anchor="end" font-size="8.3" textLength="3.8" lengthAdjust="spacingAndGlyphs" fill="#2d2d30">2</text>
<text transform="translate(27.8,325.8) rotate(-90)" text-anchor="middle" font-size="10" textLength="63" lengthAdjust="spacingAndGlyphs" fill="#2d2d30">Baseline MTV (mL)</text>
<text x="144.3" y="244.8" font-size="8.4" textLength="25" lengthAdjust="spacingAndGlyphs" fill="#2d2d30"><tspan font-style="italic">P</tspan> = .01</text>
<text x="157.1" y="453.7" text-anchor="middle" font-size="10.8" textLength="21.8" lengthAdjust="spacingAndGlyphs" fill="#2d2d30">Axi-cel</text>
<text x="103.0" y="419.8" text-anchor="middle" font-size="8.7" textLength="67.5" lengthAdjust="spacingAndGlyphs" fill="#2d2d30">Ongoing response</text>
<text x="103.0" y="429.3" text-anchor="middle" font-size="8.7" textLength="28.5" lengthAdjust="spacingAndGlyphs" fill="#2d2d30">(n = 76)</text>
<text x="208.8" y="418.8" text-anchor="middle" font-size="8.7" textLength="25" lengthAdjust="spacingAndGlyphs" fill="#2d2d30">Others</text>
<text x="208.8" y="429.3" text-anchor="middle" font-size="8.7" textLength="105" lengthAdjust="spacingAndGlyphs" fill="#2d2d30">(Relapsed + Nonresponders)</text>
<text x="208.8" y="439.6" text-anchor="middle" font-size="8.7" textLength="28.5" lengthAdjust="spacingAndGlyphs" fill="#2d2d30">(n = 91)</text>
</g>
<g>
<line x1="354.9" y1="294.0" x2="354.9" y2="406.5" stroke="#4a4a55" stroke-width="1.1"/>
<rect x="334" y="305" width="41.80" height="26.00" fill="#8d98be"/>
<line x1="334" y1="318.3" x2="375.8" y2="318.3" stroke="#30355a" stroke-width="1.15"/>
<line x1="344" y1="294.0" x2="365.5" y2="294.0" stroke="#3c3c44" stroke-width="1.15"/>
<g fill="#0e3a82" stroke="#7fb0ec" stroke-opacity="0.4" stroke-width="0.5" paint-order="stroke">
<circle cx="354.9" cy="286.5" r="1.05"/>
<circle cx="354.9" cy="290.0" r="1.05"/>
<circle cx="354.9" cy="296.5" r="1.05"/>
<circle cx="354.9" cy="299.8" r="1.05"/>
<circle cx="354.9" cy="303.5" r="1.05"/>
<circle cx="354.9" cy="306.0" r="1.05"/>
<circle cx="354.9" cy="308.0" r="1.05"/>
<circle cx="354.9" cy="310.0" r="1.05"/>
<circle cx="354.9" cy="312.0" r="1.05"/>
<circle cx="354.9" cy="316.0" r="1.05"/>
<circle cx="355.2" cy="319.5" r="1.05"/>
<circle cx="355.2" cy="321.5" r="1.05"/>
<circle cx="354.9" cy="323.0" r="1.05"/>
<circle cx="354.4" cy="327.5" r="1.05"/>
<circle cx="355.7" cy="329.5" r="1.05"/>
<circle cx="354.9" cy="331.5" r="1.05"/>
<circle cx="354.9" cy="334.5" r="1.05"/>
<circle cx="354.9" cy="337.5" r="1.05"/>
<circle cx="354.9" cy="346.0" r="1.05"/>
<circle cx="354.9" cy="350.5" r="1.05"/>
<circle cx="355.4" cy="381.2" r="1.05"/>
</g>
<line x1="354.9" y1="406.5" x2="354.9" y2="409.3" stroke="#2b2b2e" stroke-width="1"/>
<line x1="460.6" y1="275.7" x2="460.6" y2="366.8" stroke="#4a4a55" stroke-width="1.1"/>
<rect x="439.8" y="289.5" width="42.00" height="34.30" fill="#8d98be"/>
<line x1="439.8" y1="303.5" x2="481.8" y2="303.5" stroke="#30355a" stroke-width="1.15"/>
<line x1="450" y1="275.7" x2="471.5" y2="275.7" stroke="#3c3c44" stroke-width="1.15"/>
<line x1="450" y1="366.8" x2="471.5" y2="366.8" stroke="#3c3c44" stroke-width="1.15"/>
<g fill="#0e3a82" stroke="#7fb0ec" stroke-opacity="0.4" stroke-width="0.5" paint-order="stroke">
<circle cx="460.7" cy="276.4" r="1.05"/>
<circle cx="460.6" cy="276.6" r="1.05"/>
<circle cx="460.9" cy="277.0" r="1.05"/>
<circle cx="460.6" cy="277.8" r="1.05"/>
<circle cx="461.1" cy="278.1" r="1.05"/>
<circle cx="461.3" cy="278.3" r="1.05"/>
<circle cx="460.1" cy="279.0" r="1.05"/>
<circle cx="460.2" cy="279.2" r="1.05"/>
<circle cx="460.9" cy="279.9" r="1.05"/>
<circle cx="461.2" cy="280.2" r="1.05"/>
<circle cx="460.5" cy="280.7" r="1.05"/>
<circle cx="461.3" cy="281.0" r="1.05"/>
<circle cx="461.2" cy="281.5" r="1.05"/>
<circle cx="460.7" cy="282.1" r="1.05"/>
<circle cx="460.2" cy="282.6" r="1.05"/>
<circle cx="461.3" cy="283.2" r="1.05"/>
<circle cx="460.8" cy="283.6" r="1.05"/>
<circle cx="461.1" cy="283.7" r="1.05"/>
<circle cx="461.2" cy="284.2" r="1.05"/>
<circle cx="460.7" cy="284.7" r="1.05"/>
<circle cx="460.1" cy="285.4" r="1.05"/>
<circle cx="460.0" cy="285.7" r="1.05"/>
<circle cx="460.1" cy="285.9" r="1.05"/>
<circle cx="461.3" cy="286.8" r="1.05"/>
<circle cx="460.3" cy="287.1" r="1.05"/>
<circle cx="461.0" cy="287.6" r="1.05"/>
<circle cx="460.7" cy="287.9" r="1.05"/>
<circle cx="459.9" cy="288.5" r="1.05"/>
<circle cx="460.6" cy="288.7" r="1.05"/>
<circle cx="460.4" cy="289.1" r="1.05"/>
<circle cx="459.9" cy="289.7" r="1.05"/>
<circle cx="460.1" cy="290.2" r="1.05"/>
<circle cx="460.3" cy="290.6" r="1.05"/>
<circle cx="459.7" cy="291.1" r="1.05"/>
<circle cx="459.9" cy="291.5" r="1.05"/>
<circle cx="460.8" cy="292.1" r="1.05"/>
<circle cx="460.4" cy="292.3" r="1.05"/>
<circle cx="461.0" cy="292.8" r="1.05"/>
<circle cx="461.1" cy="293.3" r="1.05"/>
<circle cx="461.6" cy="293.7" r="1.05"/>
<circle cx="461.3" cy="294.2" r="1.05"/>
<circle cx="460.5" cy="294.5" r="1.05"/>
<circle cx="461.4" cy="295.0" r="1.05"/>
<circle cx="460.7" cy="295.4" r="1.05"/>
<circle cx="461.4" cy="295.8" r="1.05"/>
<circle cx="459.7" cy="296.2" r="1.05"/>
<circle cx="461.4" cy="296.8" r="1.05"/>
<circle cx="460.8" cy="297.3" r="1.05"/>
<circle cx="460.2" cy="297.7" r="1.05"/>
<circle cx="459.7" cy="298.1" r="1.05"/>
<circle cx="460.5" cy="298.3" r="1.05"/>
<circle cx="460.4" cy="298.9" r="1.05"/>
<circle cx="461.0" cy="299.1" r="1.05"/>
<circle cx="460.1" cy="299.8" r="1.05"/>
<circle cx="460.4" cy="300.1" r="1.05"/>
<circle cx="459.7" cy="300.5" r="1.05"/>
<circle cx="461.5" cy="301.3" r="1.05"/>
<circle cx="461.3" cy="301.6" r="1.05"/>
<circle cx="461.2" cy="301.9" r="1.05"/>
<circle cx="461.1" cy="302.3" r="1.05"/>
<circle cx="461.4" cy="302.9" r="1.05"/>
<circle cx="461.2" cy="303.1" r="1.05"/>
<circle cx="460.7" cy="303.6" r="1.05"/>
<circle cx="459.6" cy="304.4" r="1.05"/>
<circle cx="460.2" cy="304.6" r="1.05"/>
<circle cx="459.7" cy="305.1" r="1.05"/>
<circle cx="461.2" cy="305.9" r="1.05"/>
<circle cx="460.3" cy="306.1" r="1.05"/>
<circle cx="459.7" cy="306.7" r="1.05"/>
<circle cx="461.4" cy="306.9" r="1.05"/>
<circle cx="460.6" cy="307.5" r="1.05"/>
<circle cx="461.6" cy="308.3" r="1.05"/>
<circle cx="460.0" cy="308.6" r="1.05"/>
<circle cx="461.4" cy="309.0" r="1.05"/>
<circle cx="460.0" cy="309.7" r="1.05"/>
<circle cx="460.3" cy="310.2" r="1.05"/>
<circle cx="459.9" cy="310.5" r="1.05"/>
<circle cx="461.6" cy="311.2" r="1.05"/>
<circle cx="460.9" cy="311.3" r="1.05"/>
<circle cx="461.4" cy="311.8" r="1.05"/>
<circle cx="459.8" cy="312.2" r="1.05"/>
<circle cx="460.2" cy="313.0" r="1.05"/>
<circle cx="461.3" cy="313.6" r="1.05"/>
<circle cx="459.9" cy="314.0" r="1.05"/>
<circle cx="461.5" cy="314.5" r="1.05"/>
<circle cx="459.8" cy="314.8" r="1.05"/>
<circle cx="460.2" cy="315.2" r="1.05"/>
<circle cx="460.0" cy="315.9" r="1.05"/>
<circle cx="460.1" cy="316.2" r="1.05"/>
<circle cx="461.2" cy="316.9" r="1.05"/>
<circle cx="460.9" cy="317.2" r="1.05"/>
<circle cx="460.8" cy="317.9" r="1.05"/>
<circle cx="460.1" cy="318.2" r="1.05"/>
<circle cx="461.0" cy="319.3" r="1.05"/>
<circle cx="461.0" cy="319.5" r="1.05"/>
<circle cx="461.9" cy="320.1" r="1.05"/>
<circle cx="460.7" cy="321.0" r="1.05"/>
<circle cx="459.4" cy="321.7" r="1.05"/>
<circle cx="460.0" cy="322.4" r="1.05"/>
<circle cx="461.4" cy="322.8" r="1.05"/>
<circle cx="460.0" cy="323.4" r="1.05"/>
<circle cx="459.9" cy="324.5" r="1.05"/>
<circle cx="460.7" cy="324.9" r="1.05"/>
<circle cx="461.6" cy="325.5" r="1.05"/>
<circle cx="460.6" cy="264.0" r="1.05"/>
<circle cx="460.6" cy="269.5" r="1.05"/>
<circle cx="460.6" cy="273.0" r="1.05"/>
<circle cx="459.6" cy="328.0" r="1.05"/>
<circle cx="461.1" cy="327.5" r="1.05"/>
<circle cx="458.6" cy="333.5" r="1.05"/>
<circle cx="459.6" cy="332.0" r="1.05"/>
<circle cx="461.1" cy="336.5" r="1.05"/>
<circle cx="462.6" cy="339.5" r="1.05"/>
<circle cx="458.6" cy="342.0" r="1.05"/>
<circle cx="459.6" cy="343.5" r="1.05"/>
<circle cx="460.6" cy="345.0" r="1.05"/>
<circle cx="457.1" cy="350.5" r="1.05"/>
<circle cx="459.6" cy="350.5" r="1.05"/>
<circle cx="461.6" cy="350.0" r="1.05"/>
<circle cx="464.1" cy="351.0" r="1.05"/>
<circle cx="463.6" cy="352.0" r="1.05"/>
<circle cx="458.1" cy="352.5" r="1.05"/>
<circle cx="461.1" cy="353.0" r="1.05"/>
<circle cx="461.6" cy="355.0" r="1.05"/>
<circle cx="459.1" cy="358.0" r="1.05"/>
<circle cx="461.1" cy="359.5" r="1.05"/>
</g>
<line x1="460.6" y1="406.5" x2="460.6" y2="409.3" stroke="#2b2b2e" stroke-width="1"/>
<line x1="309.0" y1="245" x2="309.0" y2="407.1" stroke="#2b2b2e" stroke-width="1.3"/>
<line x1="308.4" y1="406.5" x2="506.5" y2="406.5" stroke="#2b2b2e" stroke-width="1.3"/>
<line x1="305.7" y1="253.15" x2="309.0" y2="253.15" stroke="#2b2b2e" stroke-width="0.9"/>
<text x="303.30" y="256.10" text-anchor="end" font-size="8.3" textLength="18.0" lengthAdjust="spacingAndGlyphs" fill="#2d2d30">4500</text>
<line x1="305.7" y1="268.44" x2="309.0" y2="268.44" stroke="#2b2b2e" stroke-width="0.9"/>
<text x="303.30" y="271.39" text-anchor="end" font-size="8.3" textLength="18.0" lengthAdjust="spacingAndGlyphs" fill="#2d2d30">2000</text>
<line x1="305.7" y1="281.51" x2="309.0" y2="281.51" stroke="#2b2b2e" stroke-width="0.9"/>
<text x="303.30" y="284.46" text-anchor="end" font-size="8.3" textLength="18.0" lengthAdjust="spacingAndGlyphs" fill="#2d2d30">1000</text>
<line x1="305.7" y1="294.58" x2="309.0" y2="294.58" stroke="#2b2b2e" stroke-width="0.9"/>
<text x="303.30" y="297.53" text-anchor="end" font-size="8.3" textLength="13.5" lengthAdjust="spacingAndGlyphs" fill="#2d2d30">500</text>
<line x1="305.7" y1="311.86" x2="309.0" y2="311.86" stroke="#2b2b2e" stroke-width="0.9"/>
<text x="303.30" y="314.81" text-anchor="end" font-size="8.3" textLength="13.5" lengthAdjust="spacingAndGlyphs" fill="#2d2d30">200</text>
<line x1="305.7" y1="324.93" x2="309.0" y2="324.93" stroke="#2b2b2e" stroke-width="0.9"/>
<text x="303.30" y="327.88" text-anchor="end" font-size="8.3" textLength="13.5" lengthAdjust="spacingAndGlyphs" fill="#2d2d30">100</text>
<line x1="305.7" y1="338.00" x2="309.0" y2="338.00" stroke="#2b2b2e" stroke-width="0.9"/>
<text x="303.30" y="340.95" text-anchor="end" font-size="8.3" textLength="8.5" lengthAdjust="spacingAndGlyphs" fill="#2d2d30">50</text>
<line x1="305.7" y1="355.28" x2="309.0" y2="355.28" stroke="#2b2b2e" stroke-width="0.9"/>
<text x="303.30" y="358.23" text-anchor="end" font-size="8.3" textLength="8.5" lengthAdjust="spacingAndGlyphs" fill="#2d2d30">20</text>
<line x1="305.7" y1="368.35" x2="309.0" y2="368.35" stroke="#2b2b2e" stroke-width="0.9"/>
<text x="303.30" y="371.30" text-anchor="end" font-size="8.3" textLength="8.5" lengthAdjust="spacingAndGlyphs" fill="#2d2d30">10</text>
<line x1="305.7" y1="381.42" x2="309.0" y2="381.42" stroke="#2b2b2e" stroke-width="0.9"/>
<text x="303.30" y="384.37" text-anchor="end" font-size="8.3" textLength="3.8" lengthAdjust="spacingAndGlyphs" fill="#2d2d30">5</text>
<line x1="305.7" y1="398.70" x2="309.0" y2="398.70" stroke="#2b2b2e" stroke-width="0.9"/>
<text x="303.30" y="401.65" text-anchor="end" font-size="8.3" textLength="3.8" lengthAdjust="spacingAndGlyphs" fill="#2d2d30">2</text>
<text transform="translate(279.3,325.8) rotate(-90)" text-anchor="middle" font-size="10" textLength="63" lengthAdjust="spacingAndGlyphs" fill="#2d2d30">Baseline MTV (mL)</text>
<text x="394.8" y="244.8" font-size="8.4" textLength="25" lengthAdjust="spacingAndGlyphs" fill="#2d2d30"><tspan font-style="italic">P</tspan> = .01</text>
<text x="407.8" y="452.9" text-anchor="middle" font-size="11.2" textLength="46.5" lengthAdjust="spacingAndGlyphs" fill="#2d2d30">Standard care</text>
<text x="354.9" y="419.9" text-anchor="middle" font-size="8.7" textLength="67.5" lengthAdjust="spacingAndGlyphs" fill="#2d2d30">Ongoing response</text>
<text x="354.9" y="429.4" text-anchor="middle" font-size="8.7" textLength="28.5" lengthAdjust="spacingAndGlyphs" fill="#2d2d30">(n = 28)</text>
<text x="460.6" y="418.8" text-anchor="middle" font-size="8.7" textLength="25" lengthAdjust="spacingAndGlyphs" fill="#2d2d30">Others</text>
<text x="460.6" y="429.0" text-anchor="middle" font-size="8.7" textLength="105" lengthAdjust="spacingAndGlyphs" fill="#2d2d30">(Relapsed + Nonresponders)</text>
<text x="460.6" y="439.3" text-anchor="middle" font-size="8.7" textLength="33" lengthAdjust="spacingAndGlyphs" fill="#2d2d30">(n = 106)</text>
</g>
<text x="6.7" y="17" font-size="12.7" font-weight="bold" fill="#111" style="stroke:#111;stroke-width:0.4px">A</text>
<text x="8.4" y="247.8" font-size="12.7" font-weight="bold" textLength="7.4" lengthAdjust="spacingAndGlyphs" fill="#111" style="stroke:#111;stroke-width:0.4px">B</text>
<rect x="0" y="0" width="520" height="1" fill="#626262"/>
<rect x="0" y="0" width="1" height="463" fill="#666666"/>
<rect x="519" y="0" width="1" height="463" fill="#6c6c6c"/>
<rect x="0" y="462" width="520" height="1" fill="#3a3a3a"/>
</svg>
</body>
</html>
